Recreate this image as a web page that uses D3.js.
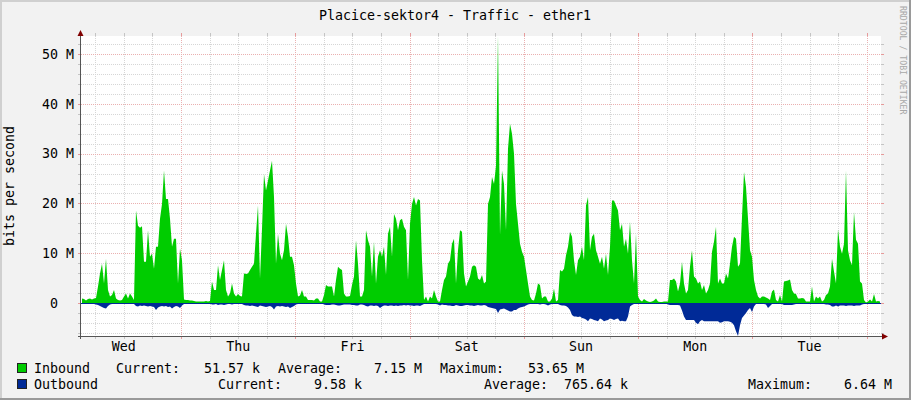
<!DOCTYPE html>
<html><head><meta charset="utf-8">
<script src="https://cdn.jsdelivr.net/npm/d3@7"></script>
<style>
html,body{margin:0;padding:0;background:#f2f2f2;}
svg text{font-family:"DejaVu Sans Mono",monospace;white-space:pre;}
</style></head><body>
<svg id="chart" width="911" height="400"></svg>
<script>
// ---------------- data ----------------
const title = "Placice-sektor4 - Traffic - ether1";
const yAxisTitle = "bits per second";
const watermark = "RRDTOOL / TOBI OETIKER";
const dayLabels = ["Wed","Thu","Fri","Sat","Sun","Mon","Tue"];
const yTickValues = [0, 10, 20, 30, 40, 50];           // Mbit/s
const yTickLabels = ["0  ", "10 M", "20 M", "30 M", "40 M", "50 M"];
const seriesNames = ["Inbound", "Outbound"];
const statNames = ["Current:", "Average:", "Maximum:"];
const inboundStats = ["51.57 k", "7.15 M", "53.65 M"];
const outboundStats = ["9.58 k", "765.64 k", "6.64 M"];
const yMin = -6.64, yMax = 53.65;                       // Mbit/s
// series sampled every 1/400 of the week, Mbit/s
const inbound = [
0.9,0.8,0.5,0.8,0.9,0.7,0.9,1.0,3.3,5.9,
7.9,3.9,8.9,2.6,1.3,1.6,2.6,0.9,0.6,0.5,
0.6,1.3,1.9,0.9,1.9,1.3,0.6,18.6,15.5,15.1,
15.4,8.3,8.3,14.6,9.3,9.9,6.9,11.3,11.3,16.9,
19.9,26.6,20.9,20.9,16.9,11.3,12.9,12.9,3.9,10.9,
8.6,0.7,0.6,0.6,0.5,0.5,0.4,0.3,0.3,0.3,
0.3,0.3,0.4,0.3,0.4,4.3,2.6,2.6,7.6,4.6,
6.6,8.6,2.6,1.3,1.9,3.9,1.9,1.3,1.8,1.4,
1.3,5.9,5.8,5.9,6.6,7.3,7.9,13.9,19.6,4.9,
14.9,25.9,22.6,24.6,26.6,28.6,21.3,7.9,13.9,9.9,
8.6,10.6,15.9,13.3,9.3,9.3,7.6,3.9,1.3,1.5,
2.6,1.3,1.3,0.6,0.6,0.6,0.5,0.9,0.9,0.3,
0.3,1.6,3.6,3.3,3.3,3.3,1.3,4.6,7.3,6.9,
6.6,1.9,1.3,1.3,1.4,3.6,5.3,12.6,7.9,1.3,
1.3,2.6,14.6,12.6,11.3,5.3,12.3,3.9,9.3,10.6,
9.3,11.3,5.6,13.9,15.3,9.3,17.9,16.9,14.6,16.6,
16.9,15.3,14.6,4.6,15.9,19.9,21.3,19.6,20.9,20.6,
8.6,0.6,1.3,0.3,1.3,0.9,2.6,1.3,0.3,0.3,
2.6,4.6,5.3,7.9,8.6,11.9,12.9,3.9,10.6,14.6,
14.3,5.9,3.3,4.3,5.3,7.3,7.6,7.3,4.9,4.6,
5.6,3.9,4.3,19.9,21.3,25.3,23.9,27.5,53.65,13.6,
26.6,23.9,14.6,31.0,36.0,34.0,30.0,19.9,15.9,11.9,
10.3,9.3,6.6,3.9,1.3,0.6,0.5,1.9,3.9,3.6,
0.9,1.3,1.3,0.3,0.3,0.9,2.9,0.3,0.6,6.6,
6.3,6.9,9.6,11.3,14.3,13.3,8.6,5.6,8.6,9.3,
11.3,8.6,19.6,21.3,10.6,13.3,13.9,10.6,9.3,7.9,
9.3,6.9,9.9,5.6,11.3,20.6,20.6,19.6,18.6,14.6,
15.9,11.3,12.9,9.9,16.3,8.6,3.9,13.9,1.3,0.6,
0.3,0.8,0.5,0.3,0.2,0.3,0.5,0.9,0.3,0.2,
0.2,0.3,0.3,0.3,4.6,4.6,4.9,4.3,2.3,3.9,
8.3,3.9,1.9,2.6,7.3,10.6,5.3,4.9,3.9,4.3,
2.6,3.6,1.9,2.6,3.9,10.3,12.3,15.3,3.9,4.9,
3.9,3.9,5.9,4.9,7.9,11.3,13.3,12.9,7.3,7.9,
17.3,26.3,23.3,16.9,10.6,9.3,4.6,2.6,1.3,0.9,
1.3,1.3,1.1,0.9,0.6,2.3,2.7,0.6,0.3,1.6,
0.3,4.3,4.4,4.5,4.7,2.6,1.9,1.8,0.9,0.9,
1.0,0.9,0.3,0.3,0.3,3.3,0.3,1.3,0.9,1.3,
0.3,0.6,1.6,1.9,3.3,8.9,6.3,3.9,14.8,11.3,
9.9,11.9,26.6,10.6,8.6,7.6,18.3,12.7,11.9,4.3,
3.9,0.6,0.1,0.3,0.7,0.3,1.8,0.3,0.4,0.3
];
const outbound = [
0.1,0.2,0.1,0.2,0.1,0.2,0.2,0.3,0.4,0.6,
0.8,1.0,1.1,0.6,0.3,0.2,0.2,0.2,0.1,0.2,
0.2,0.1,0.2,0.2,0.2,0.2,0.2,0.6,0.7,0.5,
0.6,0.5,0.6,0.7,0.6,0.7,0.8,1.4,0.9,0.7,
0.6,0.7,0.6,0.8,0.7,1.1,0.8,0.6,0.7,1.0,
0.5,0.2,0.1,0.1,0.1,0.1,0.1,0.1,0.1,0.1,
0.1,0.1,0.1,0.1,0.1,0.3,0.3,0.2,0.4,0.3,
0.3,0.4,0.3,0.2,0.2,0.3,0.2,0.2,0.2,0.2,
0.2,0.4,0.5,0.5,0.6,0.5,0.6,0.7,0.8,0.5,
0.6,0.7,0.8,0.7,0.6,0.8,1.3,0.7,0.6,0.7,
0.6,0.7,0.8,0.7,1.0,0.8,0.6,0.3,0.2,0.1,
0.2,0.1,0.1,0.1,0.1,0.1,0.1,0.1,0.1,0.1,
0.1,0.3,0.4,0.4,0.4,0.3,0.3,0.4,0.5,0.5,
0.4,0.3,0.3,0.3,0.3,0.4,0.4,0.5,0.5,0.3,
0.3,0.4,0.6,0.7,0.5,0.5,0.6,0.5,0.6,1.0,
0.7,0.5,0.5,0.6,0.5,0.5,0.6,0.5,0.6,0.5,
0.5,0.4,0.5,0.4,0.5,0.5,0.6,0.5,0.5,0.6,
0.4,0.2,0.2,0.2,0.2,0.2,0.2,0.2,0.3,0.5,
0.3,0.4,0.4,0.5,0.5,0.6,0.6,0.4,0.5,0.6,
0.6,0.5,0.4,0.4,0.5,0.5,0.6,0.5,0.4,0.5,
0.5,0.4,0.5,0.8,0.9,1.0,1.1,1.2,2.0,1.3,
1.2,1.1,1.3,1.5,1.7,1.7,1.4,1.4,1.1,0.9,
0.8,0.7,0.5,0.3,0.2,0.2,0.2,0.2,0.2,0.3,
0.2,0.2,0.3,0.5,0.3,0.2,0.2,0.2,0.2,0.4,
0.5,0.5,0.6,0.9,1.4,2.4,2.7,2.7,2.8,2.7,
3.0,3.1,3.3,3.7,3.1,3.2,3.4,3.5,3.7,3.1,
3.3,3.7,3.5,3.4,3.1,3.2,3.4,3.2,3.1,3.7,
3.6,3.7,3.7,2.7,0.7,0.4,0.2,0.2,0.2,0.1,
0.1,0.1,0.2,0.1,0.1,0.1,0.1,0.2,0.1,0.1,
0.1,0.1,0.1,0.3,0.4,0.4,0.4,0.4,0.4,0.5,
1.5,2.7,3.4,3.4,3.4,3.4,3.4,4.0,4.3,3.7,
3.4,3.7,3.7,3.7,3.7,3.7,3.7,3.7,3.7,4.0,
3.9,3.7,3.7,3.7,3.8,4.0,4.5,5.7,6.64,4.5,
3.0,2.5,2.0,1.4,1.0,1.8,0.7,0.2,0.2,0.2,
0.2,0.2,0.3,1.0,0.6,0.2,0.2,0.2,0.2,0.2,
0.2,0.4,0.4,0.4,0.4,0.4,0.3,0.2,0.2,0.2,
0.2,0.2,0.2,0.2,0.2,0.2,0.2,0.2,0.2,0.2,
0.2,0.2,0.3,0.3,0.4,0.7,0.7,0.5,0.7,0.5,
0.5,0.5,0.6,0.5,0.5,0.5,0.6,0.5,0.5,0.5,
0.3,0.2,0.1,0.1,0.1,0.1,0.1,0.1,0.1,0.1
];
const startTime = new Date(Date.UTC(2023, 2, 1, 3, 0));   // Wed 03:00
const endTime = new Date(+startTime + 7 * 864e5);

// ---------------- layout ----------------
const W = 911, H = 400;
const L = 81, R = 881, T = 36, B = 336;
const FS = "13.3px";
const svg = d3.select("#chart");

svg.append("rect").attr("width", W).attr("height", H).attr("fill", "#f2f2f2");
svg.append("rect").attr("x",0).attr("y",0).attr("width",W).attr("height",2).attr("fill","#d0d0d0");
svg.append("rect").attr("x",0).attr("y",0).attr("width",2).attr("height",H).attr("fill","#d0d0d0");
svg.append("rect").attr("x",W-2).attr("y",0).attr("width",2).attr("height",H).attr("fill","#9a9a9a");
svg.append("rect").attr("x",0).attr("y",H-2).attr("width",W).attr("height",2).attr("fill","#9a9a9a");

const x = d3.scaleUtc().domain([startTime, endTime]).range([L, R]);
const y = d3.scaleLinear().domain([yMin, yMax]).range([B, T]);
const step = (endTime - startTime) / inbound.length;
const tAt = i => new Date(+startTime + i * step);

// canvas
svg.append("rect").attr("x", L).attr("y", T).attr("width", R - L).attr("height", B - T).attr("fill", "#fff");

const grid = svg.append("g").attr("shape-rendering", "crispEdges");
const minorCol = "#d6d6d6", majorCol = "#eab0b0";
const minorTick = "#c4c4c4", majorTick = "#e69a9a";
// vertical grid
d3.utcHour.every(6).range(startTime, endTime).forEach(d => {
  const major = d.getUTCHours() === 0;
  const px = Math.round(x(d)) + 0.5;
  grid.append("line").attr("x1", px).attr("x2", px).attr("y1", T).attr("y2", B)
    .attr("stroke", major ? majorCol : minorCol).attr("stroke-dasharray", "1,1");
  grid.append("line").attr("x1", px).attr("x2", px).attr("y1", T - 3).attr("y2", T)
    .attr("stroke", major ? majorTick : minorTick);
  grid.append("line").attr("x1", px).attr("x2", px).attr("y1", B).attr("y2", B + 3)
    .attr("stroke", major ? majorTick : minorTick);
});
// horizontal grid
d3.range(-6, 54, 2).forEach(v => {
  const major = v % 10 === 0;
  const py = Math.round(y(v)) + 0.5;
  grid.append("line").attr("x1", L).attr("x2", R).attr("y1", py).attr("y2", py)
    .attr("stroke", major ? majorCol : minorCol).attr("stroke-dasharray", "1,1");
  grid.append("line").attr("x1", L - 3).attr("x2", L).attr("y1", py).attr("y2", py)
    .attr("stroke", major ? majorTick : minorTick);
  grid.append("line").attr("x1", R).attr("x2", R + 3).attr("y1", py).attr("y2", py)
    .attr("stroke", major ? majorTick : minorTick);
});

// areas
const areaIn = d3.area().x((d, i) => x(tAt(i)) + 1).y0(y(0)).y1(d => y(d)).curve(d3.curveLinear);
const areaOut = d3.area().x((d, i) => x(tAt(i)) + 1).y0(y(0)).y1(d => y(-d)).curve(d3.curveLinear);
svg.append("path").datum(inbound).attr("d", areaIn).attr("fill", "#00cc00");
svg.append("path").datum(outbound).attr("d", areaOut).attr("fill", "#002a97");
svg.append("line").attr("x1", L).attr("x2", R).attr("y1", Math.round(y(0)) + 0.5).attr("y2", Math.round(y(0)) + 0.5)
  .attr("stroke", "#002a97").attr("shape-rendering", "crispEdges");

// axes
const ax = svg.append("g").attr("shape-rendering", "crispEdges");
ax.append("line").attr("x1", L - 3).attr("x2", R + 4).attr("y1", B + 0.5).attr("y2", B + 0.5).attr("stroke", "#555");
ax.append("line").attr("x1", L - 0.5).attr("x2", L - 0.5).attr("y1", B + 3).attr("y2", T - 3).attr("stroke", "#555");
svg.append("path").attr("d", `M${R + 1},${B - 2.5}L${R + 7},${B + 0.5}L${R + 1},${B + 3.5}Z`).attr("fill", "#800000");
svg.append("path").attr("d", `M${L - 3.5},${T}L${L - 0.5},${T - 6}L${L + 2.5},${T}Z`).attr("fill", "#800000");

// y tick labels
yTickValues.forEach((v, i) => {
  svg.append("text").attr("x", 74).attr("y", y(v) + 4.8).attr("text-anchor", "end")
    .attr("font-size", FS).attr("fill", "#000").text(yTickLabels[i]);
});
// x labels at noon
const noons = d3.utcHour.range(startTime, endTime).filter(d => d.getUTCHours() === 12);
noons.forEach((d, i) => {
  svg.append("text").attr("x", x(d)).attr("y", 351).attr("text-anchor", "middle")
    .attr("font-size", FS).attr("fill", "#000").text(dayLabels[i]);
});

// title
svg.append("text").attr("x", 455).attr("y", 19.5).attr("text-anchor", "middle")
  .attr("font-size", FS).attr("fill", "#000").text(title);
// y axis title
svg.append("text").attr("transform", `translate(13.5,${(T + B) / 2}) rotate(-90)`).attr("text-anchor", "middle")
  .attr("font-size", FS).attr("fill", "#000").text(yAxisTitle);
// watermark
svg.append("text").attr("transform", `translate(900,6) rotate(90)`).attr("text-anchor", "start")
  .attr("font-size", "8.2px").attr("fill", "#a8a8a8").text(watermark);

// legend
const legendRows = [
  { name: seriesNames[0], color: "#00cc00", stats: inboundStats, xs: [116, 278, 440], base: 373 },
  { name: seriesNames[1], color: "#002a97", stats: outboundStats, xs: [218, 484, 748], base: 389 }
];
legendRows.forEach(r => {
  svg.append("rect").attr("x", 17.5).attr("y", r.base - 9.5).attr("width", 9).attr("height", 9)
    .attr("fill", r.color).attr("stroke", "#222").attr("shape-rendering", "crispEdges");
  svg.append("text").attr("x", 34).attr("y", r.base).attr("font-size", FS).attr("fill", "#000").text(r.name);
  r.stats.forEach((s, j) => {
    svg.append("text").attr("x", r.xs[j]).attr("y", r.base).attr("font-size", FS).attr("fill", "#000")
      .text(statNames[j] + s.padStart(10));
  });
});
</script>
</body></html>
